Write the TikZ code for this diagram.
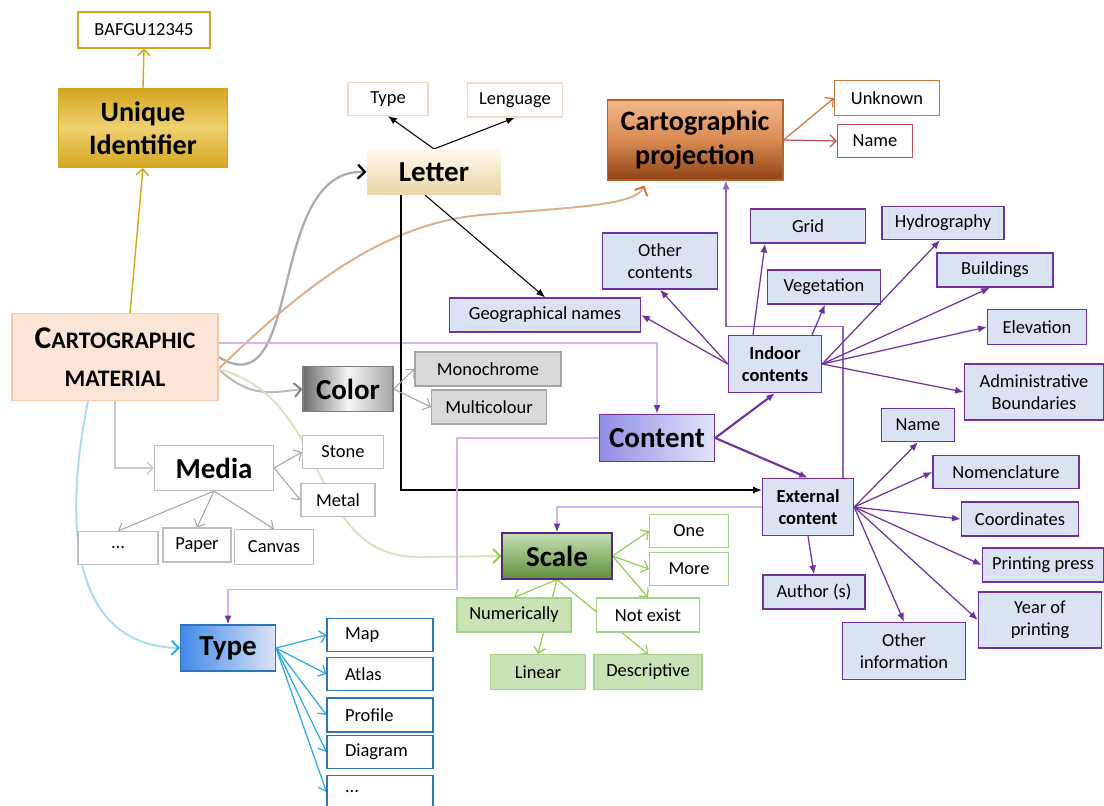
\documentclass[tikz,border=0pt]{standalone}
\usepackage{fontspec}
\setmainfont{Carlito}
\usepackage{xcolor}
\usetikzlibrary{arrows.meta,calc,backgrounds}

\definecolor{goldline}{HTML}{D4A517}
\definecolor{goldtop}{HTML}{D3A520}
\definecolor{goldmid}{HTML}{EFD170}
\definecolor{letop}{HTML}{FFF8EA}
\definecolor{lebot}{HTML}{EAD5A8}
\definecolor{lebord}{HTML}{F0DCC6}
\definecolor{prtop}{HTML}{F4B88C}
\definecolor{prmid}{HTML}{D98B52}
\definecolor{prbot}{HTML}{8E4214}
\definecolor{prbord}{HTML}{B5652B}
\definecolor{prline}{HTML}{C47A3C}
\definecolor{nmline}{HTML}{C0504D}
\definecolor{peach}{HTML}{FCE4D6}
\definecolor{peachbd}{HTML}{F8CBAD}
\definecolor{curvebr}{HTML}{DDAE8A}
\definecolor{paleg}{HTML}{D8E4BA}
\definecolor{greyln}{HTML}{A6A6A6}
\definecolor{greybd}{HTML}{BFBFBF}
\definecolor{greyfl}{HTML}{D9D9D9}
\definecolor{skyln}{HTML}{29ABE2}
\definecolor{skycv}{HTML}{A8DCF0}
\definecolor{typebd}{HTML}{2E75B6}
\definecolor{typeL}{HTML}{4189E6}
\definecolor{typeR}{HTML}{DCE4F7}
\definecolor{purp}{HTML}{7030A0}
\definecolor{lpurp}{HTML}{D2B6E6}
\definecolor{lblue}{HTML}{DAE3F3}
\definecolor{contL}{HTML}{8F8FE3}
\definecolor{contR}{HTML}{E2E6FB}
\definecolor{grnln}{HTML}{92D050}
\definecolor{grnbd}{HTML}{A9D18E}
\definecolor{grnfl}{HTML}{C9E2B6}
\definecolor{sctop}{HTML}{C6E0B4}
\definecolor{scbot}{HTML}{5F8F3C}

\begin{document}
\begin{tikzpicture}[x=0.02cm,y=-0.02cm,
  leaf/.style={draw,fill=white,line width=0.6pt,inner sep=1pt,minimum height=0.68cm,font=\fontsize{10.5}{12.5}\selectfont,align=center},
  head/.style={draw,line width=0.6pt,inner sep=1pt,font=\fontsize{16.5}{19}\selectfont\bfseries,align=center},
  inbox/.style={leaf,draw=purp,fill=lblue,line width=0.8pt},
  listbox/.style={leaf,draw=typebd,minimum width=2.12cm,text width=1.4cm,align=left},
  open/.style={-{Straight Barb[length=3.5pt,width=7pt]}},
  tri/.style={-{Latex[length=5pt,width=4pt]}},
  greyarr/.style={open,greyln,line width=0.6pt},
  bluearr/.style={open,skyln,line width=0.7pt},
  grnarr/.style={open,grnln,line width=0.7pt},
  purparr/.style={tri,purp,line width=0.7pt},
  blk/.style={tri,black,line width=0.6pt}]
\useasboundingbox (0,0) rectangle (1104,805);

\node[leaf,draw=goldline,minimum width=2.64cm,minimum height=0.72cm] (bafgu) at (144,30) {BAFGU12345};
\node[head,draw=goldline,top color=goldtop,bottom color=goldtop,middle color=goldmid,minimum width=3.38cm,minimum height=1.58cm,font=\fontsize{16}{19}\selectfont\bfseries] (uid) at (143,128) {Unique\\Identifier};
\node[head,draw=none,top color=letop,bottom color=lebot,minimum width=2.68cm,minimum height=0.9cm] (letter) at (434,172) {Letter};
\node[leaf,draw=lebord,minimum width=1.6cm,minimum height=0.66cm] (ltype) at (388,99) {Type};
\node[leaf,draw=lebord,minimum width=1.9cm] (lleng) at (515,100) {Lenguage};
\node[head,draw=prbord,top color=prtop,bottom color=prbot,middle color=prmid,minimum width=3.52cm,minimum height=1.6cm,font=\fontsize{16}{19}\selectfont\bfseries] (proj) at (695,140) {Cartographic\\projection};
\node[leaf,draw=prline,minimum width=2.1cm,minimum height=0.7cm] (unknown) at (887,98) {Unknown};
\node[leaf,draw=nmline,minimum width=1.5cm,minimum height=0.66cm] (pname) at (875,141) {Name};
\node[head,draw=peachbd,fill=peach,minimum width=4.12cm,minimum height=1.74cm,font=\fontsize{13.5}{21.5}\selectfont\bfseries] (carto) at (115,357) {{\fontsize{18}{21.5}\selectfont C}ARTOGRAPHIC\\MATERIAL};
\node[head,draw=gray,left color=gray!85!black,right color=gray!70,middle color=gray!8,minimum width=1.8cm,minimum height=0.9cm] (color) at (348,389) {Color};
\node[leaf,draw=greyln,fill=greyfl,minimum width=2.92cm] (mono) at (488,369) {Monochrome};
\node[leaf,draw=greyln,fill=greyfl,minimum width=2.3cm] (multi) at (489,407) {Multicolour};
\node[head,draw=greybd,fill=white,minimum width=2.38cm,minimum height=0.9cm] (media) at (214,468) {Media};
\node[leaf,draw=greybd,minimum width=1.62cm,minimum height=0.66cm] (stone) at (343,452) {Stone};
\node[leaf,draw=greybd,minimum width=1.48cm,minimum height=0.66cm] (metal) at (338,500) {Metal};
\node[leaf,draw=greybd,minimum width=1.6cm,minimum height=0.66cm] (mdots) at (118,548) {...};
\node[leaf,draw=greybd,minimum width=1.36cm] (paper) at (197,545) {Paper};
\node[leaf,draw=greybd,minimum width=1.58cm,minimum height=0.7cm] (canvas) at (274,547) {Canvas};
\node[head,draw=typebd,left color=typeL,right color=typeR,minimum width=1.9cm,minimum height=0.92cm] (type) at (228,648) {Type};
\node[listbox,minimum height=0.66cm] (map) at (380,635) {Map};
\node[listbox,minimum height=0.66cm] (atlas) at (380,674) {Atlas};
\node[listbox] (profile) at (380,715) {Profile};
\node[listbox,minimum height=0.66cm] (diagram) at (380,752) {Diagram};
\node[listbox,minimum height=0.66cm] (tdots) at (380,792) {...};
\node[inbox,minimum width=3.82cm] (geo) at (545,315) {Geographical names};
\node[inbox,minimum width=2.3cm,minimum height=1.12cm] (other) at (660,261) {Other\\contents};
\node[inbox,minimum width=2.3cm] (grid) at (808,226) {Grid};
\node[inbox,minimum width=2.26cm] (veget) at (824,287) {Vegetation};
\node[inbox,minimum width=2.44cm,minimum height=0.66cm] (hydro) at (943,223) {Hydrography};
\node[inbox,minimum width=2.32cm] (build) at (995,270) {Buildings};
\node[inbox,minimum width=1.98cm,minimum height=0.7cm] (elev) at (1037,327) {Elevation};
\node[inbox,minimum width=1.86cm,minimum height=1.14cm,font=\fontsize{10.5}{12.5}\selectfont\bfseries] (indoor) at (775,364) {Indoor\\contents};
\node[inbox,minimum width=2.78cm,minimum height=1.12cm] (admin) at (1034,392) {Administrative\\Boundaries};
\node[head,draw=purp,line width=0.8pt,left color=contL,right color=contR,minimum width=2.3cm,minimum height=0.94cm] (content) at (657,438) {Content};
\node[inbox,minimum width=1.46cm,minimum height=0.66cm] (ename) at (918,425) {Name};
\node[inbox,minimum width=2.92cm,minimum height=0.66cm] (nomen) at (1006,472) {Nomenclature};
\node[inbox,minimum width=2.34cm] (coord) at (1020,519) {Coordinates};
\node[inbox,minimum width=2.42cm] (press) at (1043,565) {Printing press};
\node[inbox,minimum width=2.46cm,minimum height=1.12cm] (year) at (1040,620) {Year of\\printing};
\node[inbox,minimum width=1.82cm,minimum height=1.14cm,font=\fontsize{10.5}{12.5}\selectfont\bfseries] (external) at (808,507) {External\\content};
\node[inbox,minimum width=2.04cm] (author) at (814,592) {Author (s)};
\node[inbox,minimum width=2.46cm,minimum height=1.14cm] (otherinfo) at (904,651) {Other\\information};
\node[head,draw=purp!80!black,top color=sctop,bottom color=scbot,minimum width=2.2cm,minimum height=0.92cm] (scale) at (557,556) {Scale};
\node[leaf,draw=grnbd,minimum width=1.58cm,minimum height=0.66cm] (one) at (689,531) {One};
\node[leaf,draw=grnbd,minimum width=1.58cm,minimum height=0.66cm] (more) at (689,569) {More};
\node[leaf,draw=grnbd,minimum width=2.06cm] (notex) at (648,615) {Not exist};
\node[leaf,draw=grnbd,fill=grnfl,minimum width=2.28cm] (numer) at (514,615) {Numerically};
\node[leaf,draw=grnbd,fill=grnfl,minimum width=1.9cm,minimum height=0.7cm] (linear) at (538,672) {Linear};
\node[leaf,draw=grnbd,fill=grnfl,minimum width=2.16cm,minimum height=0.7cm] (descr) at (648,672) {Descriptive};
\coordinate (fan) at ($(carto.east)+(0,12)$);

\begin{pgfonlayer}{background}
\draw[open,goldline,line width=0.8pt] ($(carto.north)+(15,0)$) -- (uid.south);
\draw[open,goldline,line width=0.8pt] (uid.north) -- (bafgu.south);
\draw[gray!65,line width=1.3pt,-{Straight Barb[length=4pt,width=8pt,black]}] (carto.east) .. controls (305,410) and (265,168) .. (letter.west);
\draw[curvebr,line width=1.1pt,-{Straight Barb[length=4pt,width=8pt,prline]}] (fan) .. controls (300,290) and (380,225) .. (480,215) .. controls (580,207) and (635,205) .. ($(proj.south west)+(38,5)$);
\draw[gray!55,line width=1.1pt,-{Straight Barb[length=4pt,width=8pt,gray]}] (fan) .. controls (250,398) and (270,393) .. (color.west);
\draw[paleg,line width=1.1pt,-{Straight Barb[length=4pt,width=8pt,grnln]}] (fan) .. controls (335,400) and (305,558) .. (420,557) -- (scale.west);
\draw[open,gray!40,line width=0.8pt] (carto.south) |- (media.west);
\draw[skycv,line width=1.1pt,-{Straight Barb[length=4pt,width=8pt,skyln]}] ($(carto.south)+(-27,0)$) .. controls (68,500) and (60,645) .. (type.west);
\draw[lpurp,line width=1pt,-{Latex[length=5pt,width=4pt,purp]}] ($(carto.east)+(0,-14)$) -| (content.north);
\draw[blk] (letter.north) -- (ltype.south);
\draw[blk] (letter.north) -- (lleng.south);
\draw[blk] ($(letter.south)+(-9,0)$) -- (geo.north);
\draw[blk] ($(letter.south)+(-33,0)$) |- ($(external.west)+(0,-17)$);
\draw[greyarr] (color.east) -- (mono.west);
\draw[greyarr] (color.east) -- (multi.west);
\draw[greyarr] (media.east) -- (stone.west);
\draw[greyarr] (media.east) -- (metal.west);
\foreach \t in {mdots,paper,canvas} \draw[greyarr] (media.south) -- (\t.north);
\foreach \t in {map,atlas,profile,diagram,tdots} \draw[bluearr] (type.east) -- (\t.west);
\draw[open,prline,line width=0.7pt] (proj.east) -- (unknown.west);
\draw[open,nmline,line width=0.7pt] (proj.east) -- (pname.west);
\draw[purparr,line width=1.2pt] (content.east) -- (indoor.south);
\draw[purparr,line width=1.2pt] (content.east) -- (external.north);
\draw[lpurp,line width=1pt,-{Latex[length=5pt,width=4pt,purp]}] (content.west) -- ++(-142,0) |- ($(type.north)+(0,-35)$) -- (type.north);
\draw[lpurp,line width=1pt,-{Latex[length=5pt,width=4pt,purp]}] (external.west) -| (scale.north);
\draw[purparr,purp!75] ($(external.north)+(35,0)$) -- ++(0,-151) -| ($(proj.south)+(31,0)$);
\draw[purparr] (indoor.west) -- (geo.east);
\draw[purparr] (indoor.west) -- (other.south);
\draw[purparr] ($(indoor.north)+(-22,0)$) -- ($(grid.south)+(-43,0)$);
\draw[purparr] ($(indoor.north)+(37,0)$) -- ($(veget.south)+(1,0)$);
\draw[purparr] (indoor.east) -- ($(hydro.south)+(-3,0)$);
\draw[purparr] (indoor.east) -- ($(build.south)+(-5,0)$);
\draw[purparr] (indoor.east) -- (elev.west);
\draw[purparr] (indoor.east) -- (admin.west);
\draw[purparr] (external.east) -- (ename.south);
\foreach \t in {nomen,coord,press,year} \draw[purparr] (external.east) -- (\t.west);
\draw[purparr] (external.east) -- (otherinfo.north);
\draw[purparr] (external.south) -- (author.north);
\foreach \t in {one,more} \draw[grnarr] (scale.east) -- (\t.west);
\draw[grnarr] (scale.east) -- (notex.north);
\foreach \t in {numer,linear,descr} \draw[grnarr] (scale.south) -- (\t.north);
\end{pgfonlayer}
\end{tikzpicture}
\end{document}
